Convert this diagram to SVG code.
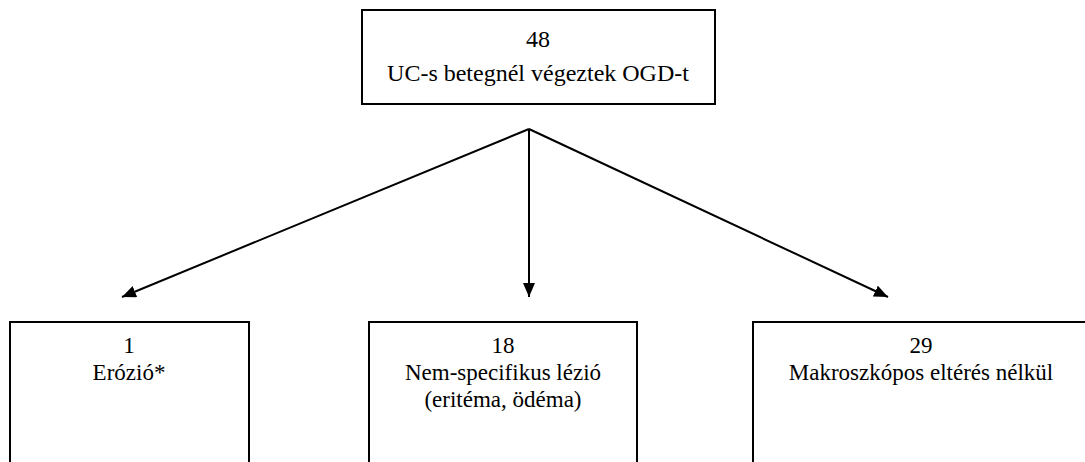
<svg xmlns="http://www.w3.org/2000/svg" width="1085" height="462" viewBox="0 0 1085 462">
<defs>
<style>
.box{fill:#fff;stroke:#000;stroke-width:2}
.t1{font-family:"Liberation Serif","Times New Roman",serif;font-size:24px;fill:#000;text-anchor:middle}
.t2{font-family:"Liberation Serif","Times New Roman",serif;font-size:23px;fill:#000;text-anchor:middle}
.edge{stroke:#000;stroke-width:2;fill:none}
</style>
<marker id="ah" viewBox="0 0 14 12" refX="14" refY="6" markerWidth="14" markerHeight="12" markerUnits="userSpaceOnUse" orient="auto">
<path d="M0,0 L14,6 L0,12 Z" fill="#000"/>
</marker>
</defs>
<rect width="1085" height="462" fill="#fff"/>
<g id="top">
<rect class="box" x="362" y="10" width="353" height="94"/>
<text class="t1" x="538" y="47">48</text>
<text class="t1" x="538" y="81">UC-s betegnél végeztek OGD-t</text>
</g>
<g id="n1">
<rect class="box" x="10" y="322" width="239" height="150"/>
<text class="t2" x="129" y="353">1</text>
<text class="t2" x="129" y="380">Erózió*</text>
</g>
<g id="n2">
<rect class="box" x="369" y="322" width="268" height="150"/>
<text class="t2" x="503" y="353">18</text>
<text class="t2" x="503" y="380">Nem-specifikus lézió</text>
<text class="t2" x="503" y="407">(eritéma, ödéma)</text>
</g>
<g id="n3">
<rect class="box" x="753" y="322" width="340" height="150"/>
<text class="t2" x="921" y="353">29</text>
<text class="t2" x="921" y="380">Makroszkópos eltérés nélkül</text>
</g>
<g id="connectors">
<line class="edge" x1="529" y1="129" x2="122" y2="297" marker-end="url(#ah)"/>
<line class="edge" x1="529" y1="129" x2="529" y2="297" marker-end="url(#ah)"/>
<line class="edge" x1="529" y1="129" x2="888" y2="297" marker-end="url(#ah)"/>
</g>
</svg>
